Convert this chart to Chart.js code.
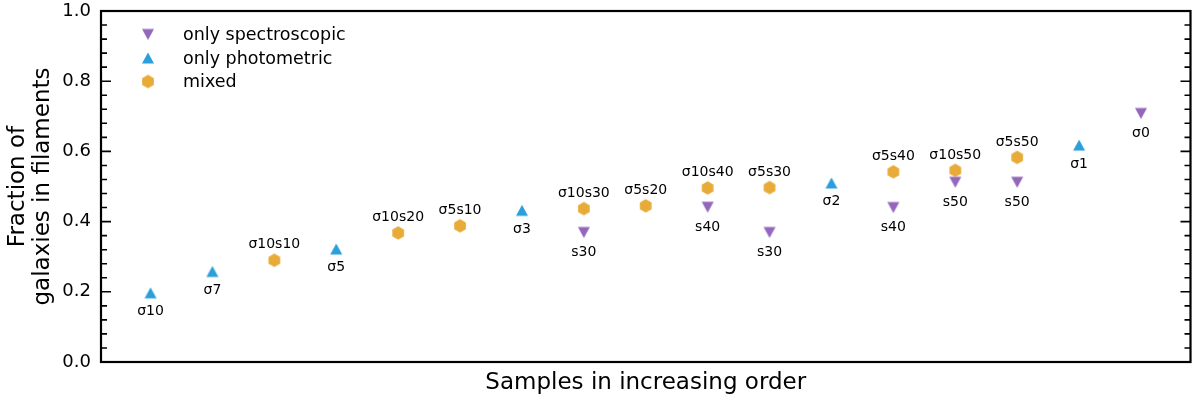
<!DOCTYPE html>
<html>
<head>
<meta charset="utf-8">
<script src="https://cdn.jsdelivr.net/npm/chart.js@4"></script>
<style>
  html, body { margin: 0; padding: 0; background: #fff; }
  #wrap { width: 1200px; height: 396px; }
</style>
</head>
<body>
<div id="wrap"><canvas id="fraction"></canvas></div>
<script>
'use strict';

// position of each sample along x (0..16), fraction, and its label
const spectroIdx = [7, 9, 10, 12, 13, 14, 16];
const spectroFrac = [0.369, 0.441, 0.369, 0.440, 0.512, 0.512, 0.708];
const spectroNames = ['s30', 's40', 's30', 's40', 's50', 's50', 'σ0'];

const photoIdx = [0, 1, 3, 6, 11, 15];
const photoFrac = [0.197, 0.258, 0.322, 0.432, 0.510, 0.618];
const photoNames = ['σ10', 'σ7', 'σ5', 'σ3', 'σ2', 'σ1'];

const mixedIdx = [2, 4, 5, 7, 8, 9, 10, 12, 13, 14];
const mixedFrac = [0.290, 0.368, 0.388, 0.437, 0.445, 0.496, 0.497, 0.542, 0.546, 0.583];
const mixedNames = ['σ10s10', 'σ10s20', 'σ5s10', 'σ10s30', 'σ5s20', 'σ10s40', 'σ5s30', 'σ5s40', 'σ10s50', 'σ5s50'];

const seriesNames = ['only spectroscopic', 'only photometric', 'mixed'];

const FONT = '"DejaVu Sans", "Liberation Sans", sans-serif';

function marker(kind, color) {
    let c = document.createElement('canvas');
    c.width = 16;
    c.height = 16;
    let g = c.getContext('2d');
    g.fillStyle = color;
    g.beginPath();
    if (kind === 'up') {
        g.moveTo(8, 2.5); g.lineTo(14, 13.5); g.lineTo(2, 13.5);
    } else if (kind === 'down') {
        g.moveTo(2, 2.5); g.lineTo(14, 2.5); g.lineTo(8, 13.5);
    } else {
        for (let k = 0; k < 6; k++) {
            let a = -Math.PI / 2 + k * Math.PI / 3;
            let px = 8 + 6.75 * Math.cos(a), py = 8 + 6.75 * Math.sin(a);
            if (k === 0) g.moveTo(px, py); else g.lineTo(px, py);
        }
    }
    g.closePath();
    g.fill();
    return c;
}

function points(idx, vals) {
    return idx.map((x, i) => ({ x: x, y: vals[i] }));
}

// inward ticks on both sides + the box
const framePlugin = {
    id: 'frame',
    afterDraw(chart) {
        let ctx = chart.ctx, a = chart.chartArea, ys = chart.scales.y;
        ctx.save();
        ctx.strokeStyle = '#000';
        ctx.lineWidth = 1.6;
        for (let k = 0; k <= 25; k++) {
            let py = ys.getPixelForValue(k * 0.04);
            let len = (k % 5 === 0) ? 10 : 6;
            ctx.beginPath();
            ctx.moveTo(a.left, py); ctx.lineTo(a.left + len, py);
            ctx.moveTo(a.right, py); ctx.lineTo(a.right - len, py);
            ctx.stroke();
        }
        ctx.lineWidth = 2.2;
        ctx.strokeRect(a.left, a.top, a.right - a.left, a.bottom - a.top);
        ctx.restore();
    }
};

// sample names next to each marker
const namePlugin = {
    id: 'names',
    afterDatasetsDraw(chart) {
        let ctx = chart.ctx;
        ctx.save();
        ctx.font = '14px ' + FONT;
        ctx.fillStyle = '#000';
        ctx.textAlign = 'center';
        ctx.textBaseline = 'alphabetic';
        chart.data.datasets.forEach((ds, d) => {
            chart.getDatasetMeta(d).data.forEach((pt, i) => {
                ctx.fillText(ds.names[i], pt.x, pt.y + ds.nameShift);
            });
        });
        ctx.restore();
    }
};

// matplotlib-like legend in the upper left corner of the axes
const keyPlugin = {
    id: 'key',
    afterDraw(chart) {
        let ctx = chart.ctx, a = chart.chartArea;
        ctx.save();
        ctx.font = '17.5px ' + FONT;
        ctx.fillStyle = '#000';
        ctx.textAlign = 'left';
        ctx.textBaseline = 'middle';
        chart.data.datasets.forEach((ds, d) => {
            let cy = a.top + 23.5 + 23.5 * d;
            ctx.drawImage(ds.pointStyle, a.left + 47 - 8, cy - 8);
            ctx.fillText(ds.label, a.left + 82, cy + 1);
        });
        ctx.restore();
    }
};

let fracCtx = document.getElementById('fraction').getContext('2d');
let fracChart = new Chart(fracCtx, {
    type: 'scatter',
    data: {
        datasets: [{
            label: seriesNames[0],
            data: points(spectroIdx, spectroFrac),
            names: spectroNames,
            nameShift: 23.5,
            pointStyle: marker('down', '#9467bd'),
            pointRadius: 7,
            backgroundColor: '#9467bd'
        }, {
            label: seriesNames[1],
            data: points(photoIdx, photoFrac),
            names: photoNames,
            nameShift: 22.5,
            pointStyle: marker('up', '#2a9fdb'),
            pointRadius: 7,
            backgroundColor: '#2a9fdb'
        }, {
            label: seriesNames[2],
            data: points(mixedIdx, mixedFrac),
            names: mixedNames,
            nameShift: -11.8,
            pointStyle: marker('hex', '#e8ab38'),
            pointRadius: 7,
            backgroundColor: '#e8ab38'
        }]
    },
    options: {
        responsive: true,
        maintainAspectRatio: false,
        animation: false,
        layout: {
            autoPadding: false,
            padding: { left: 0, top: 11, right: 9.5, bottom: 0 }
        },
        plugins: {
            legend: { display: false },
            tooltip: { enabled: false }
        },
        scales: {
            x: {
                type: 'linear',
                min: -0.8,
                max: 16.8,
                grid: { display: false, drawTicks: false },
                border: { display: false },
                ticks: { display: false },
                title: {
                    display: true,
                    text: 'Samples in increasing order',
                    color: '#000',
                    font: { family: FONT, size: 23, lineHeight: 1.15 },
                    padding: { top: 0, bottom: 0 }
                },
                afterFit(scale) {
                    scale.height = 34;
                    scale.paddingLeft = 0;
                    scale.paddingRight = 0;
                }
            },
            y: {
                min: 0,
                max: 1,
                grid: { display: false, drawTicks: false },
                border: { display: false },
                ticks: {
                    stepSize: 0.2,
                    padding: 10,
                    color: '#000',
                    font: { family: FONT, size: 18 },
                    callback: v => v.toFixed(1)
                },
                title: {
                    display: true,
                    text: ['Fraction of', 'galaxies in filaments'],
                    color: '#000',
                    font: { family: FONT, size: 23, lineHeight: 1.08 },
                    padding: { top: 6, bottom: 0 }
                },
                afterFit(scale) {
                    scale.width = 101;
                    scale.paddingTop = 0;
                    scale.paddingBottom = 0;
                }
            }
        }
    },
    plugins: [framePlugin, namePlugin, keyPlugin]
});
</script>
</body>
</html>
